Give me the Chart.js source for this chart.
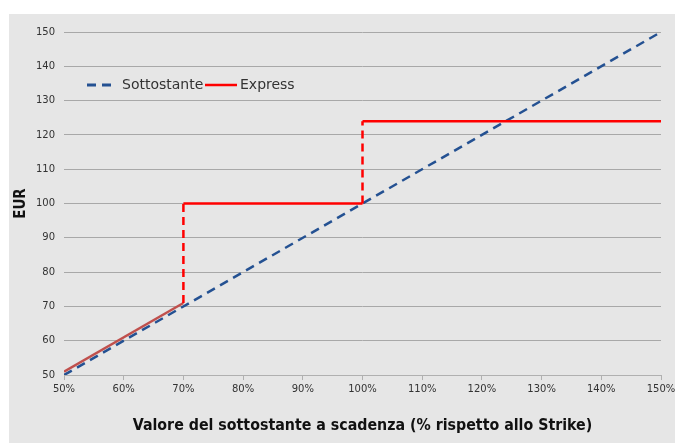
<!DOCTYPE html>
<html>
<head>
<meta charset="utf-8">
<script src="https://cdn.jsdelivr.net/npm/chart.js@4"></script>
<style>
  html, body { margin: 0; padding: 0; background: #fff; }
  #wrap { width: 675px; height: 443px; position: relative; }
</style>
</head>
<body>
<div id="wrap"><canvas id="chart" width="675" height="443"></canvas></div>
<script>
// payoff chart: underlying vs express certificate
const seriesLabels = ['Sottostante', 'Express'];

const underlyingX = [50, 150];
const underlyingY = [50, 150];

const expressX = [50, 70, 70, 100, 100, 150];
const expressY = [51, 71, 100, 100, 124, 124];

const xTickMin = 50, xTickMax = 150, xTickStep = 10;
const yTickMin = 50, yTickMax = 150, yTickStep = 10;

const blue = '#245192';
const red = '#ff0000';
const darkRed = '#c0504d';
const tickFont = { family: 'DejaVu Sans', size: 10 };

function toPoints(xs, ys) {
    return xs.map((x, i) => ({ x: x, y: ys[i] }));
}

// grey panel behind everything, leaves a white strip top/left like the original
const panelBg = {
    id: 'panelBg',
    beforeDraw(chart) {
        const c = chart.ctx;
        c.save();
        c.fillStyle = '#e6e6e6';
        c.fillRect(9, 14, chart.width - 9, chart.height - 14);
        c.restore();
    }
};

// legend sits inside the plot, top left
const innerLegend = {
    id: 'innerLegend',
    afterDraw(chart) {
        const c = chart.ctx;
        const y = 85;
        c.save();
        c.font = '14px "DejaVu Sans"';
        c.fillStyle = '#333';
        c.textBaseline = 'middle';

        c.strokeStyle = blue;
        c.lineWidth = 3;
        c.setLineDash([9, 6]);
        c.beginPath(); c.moveTo(87, y); c.lineTo(116, y); c.stroke();
        c.fillText(seriesLabels[0], 122, y);

        c.strokeStyle = red;
        c.lineWidth = 2.5;
        c.setLineDash([]);
        c.beginPath(); c.moveTo(205, y); c.lineTo(237, y); c.stroke();
        c.fillText(seriesLabels[1], 240, y);
        c.restore();
    }
};

const ctx = document.getElementById('chart').getContext('2d');
new Chart(ctx, {
    type: 'scatter',
    data: {
        datasets: [{
            label: seriesLabels[1],
            data: toPoints(expressX, expressY),
            showLine: true,
            order: 0,
            borderColor: red,
            borderWidth: 2.5,
            pointRadius: 0,
            segment: {
                borderColor: s => s.p0DataIndex === 0 ? darkRed : red,
                borderDash: s => (s.p0DataIndex === 1 || s.p0DataIndex === 3) ? [8, 5] : []
            }
        }, {
            label: seriesLabels[0],
            data: toPoints(underlyingX, underlyingY),
            showLine: true,
            order: 1,
            borderColor: blue,
            borderWidth: 2.5,
            borderDash: [9, 6],
            pointRadius: 0
        }]
    },
    options: {
        responsive: false,
        animation: false,
        layout: { padding: { top: 32, right: 0, bottom: 8, left: 0 } },
        plugins: {
            legend: { display: false },
            tooltip: { enabled: false }
        },
        scales: {
            x: {
                type: 'linear',
                min: xTickMin, max: xTickMax,
                ticks: {
                    stepSize: xTickStep,
                    color: '#333',
                    font: tickFont,
                    padding: 3,
                    callback: v => v + '%'
                },
                grid: { drawOnChartArea: false, drawTicks: true, tickLength: 5, color: '#b0b0b0' },
                border: { color: '#b0b0b0' },
                title: {
                    display: true,
                    text: 'Valore del sottostante a scadenza (% rispetto allo Strike)',
                    color: '#111',
                    font: { family: 'DejaVu Sans Condensed', size: 15.8, weight: 'bold' },
                    padding: { top: 18, bottom: 0 }
                },
                afterFit: s => { s.paddingRight = 14; }
            },
            y: {
                min: yTickMin, max: yTickMax,
                ticks: {
                    stepSize: yTickStep,
                    color: '#333',
                    font: tickFont,
                    padding: 9
                },
                grid: { drawTicks: false, color: '#a8a8a8' },
                border: { display: false },
                title: {
                    display: true,
                    text: 'EUR',
                    color: '#111',
                    font: { family: 'DejaVu Sans Condensed', size: 15, weight: 'bold' },
                    padding: { top: 12, bottom: 0 }
                },
                afterFit: s => { s.width = 64; }
            }
        }
    },
    plugins: [panelBg, innerLegend]
});
</script>
</body>
</html>
